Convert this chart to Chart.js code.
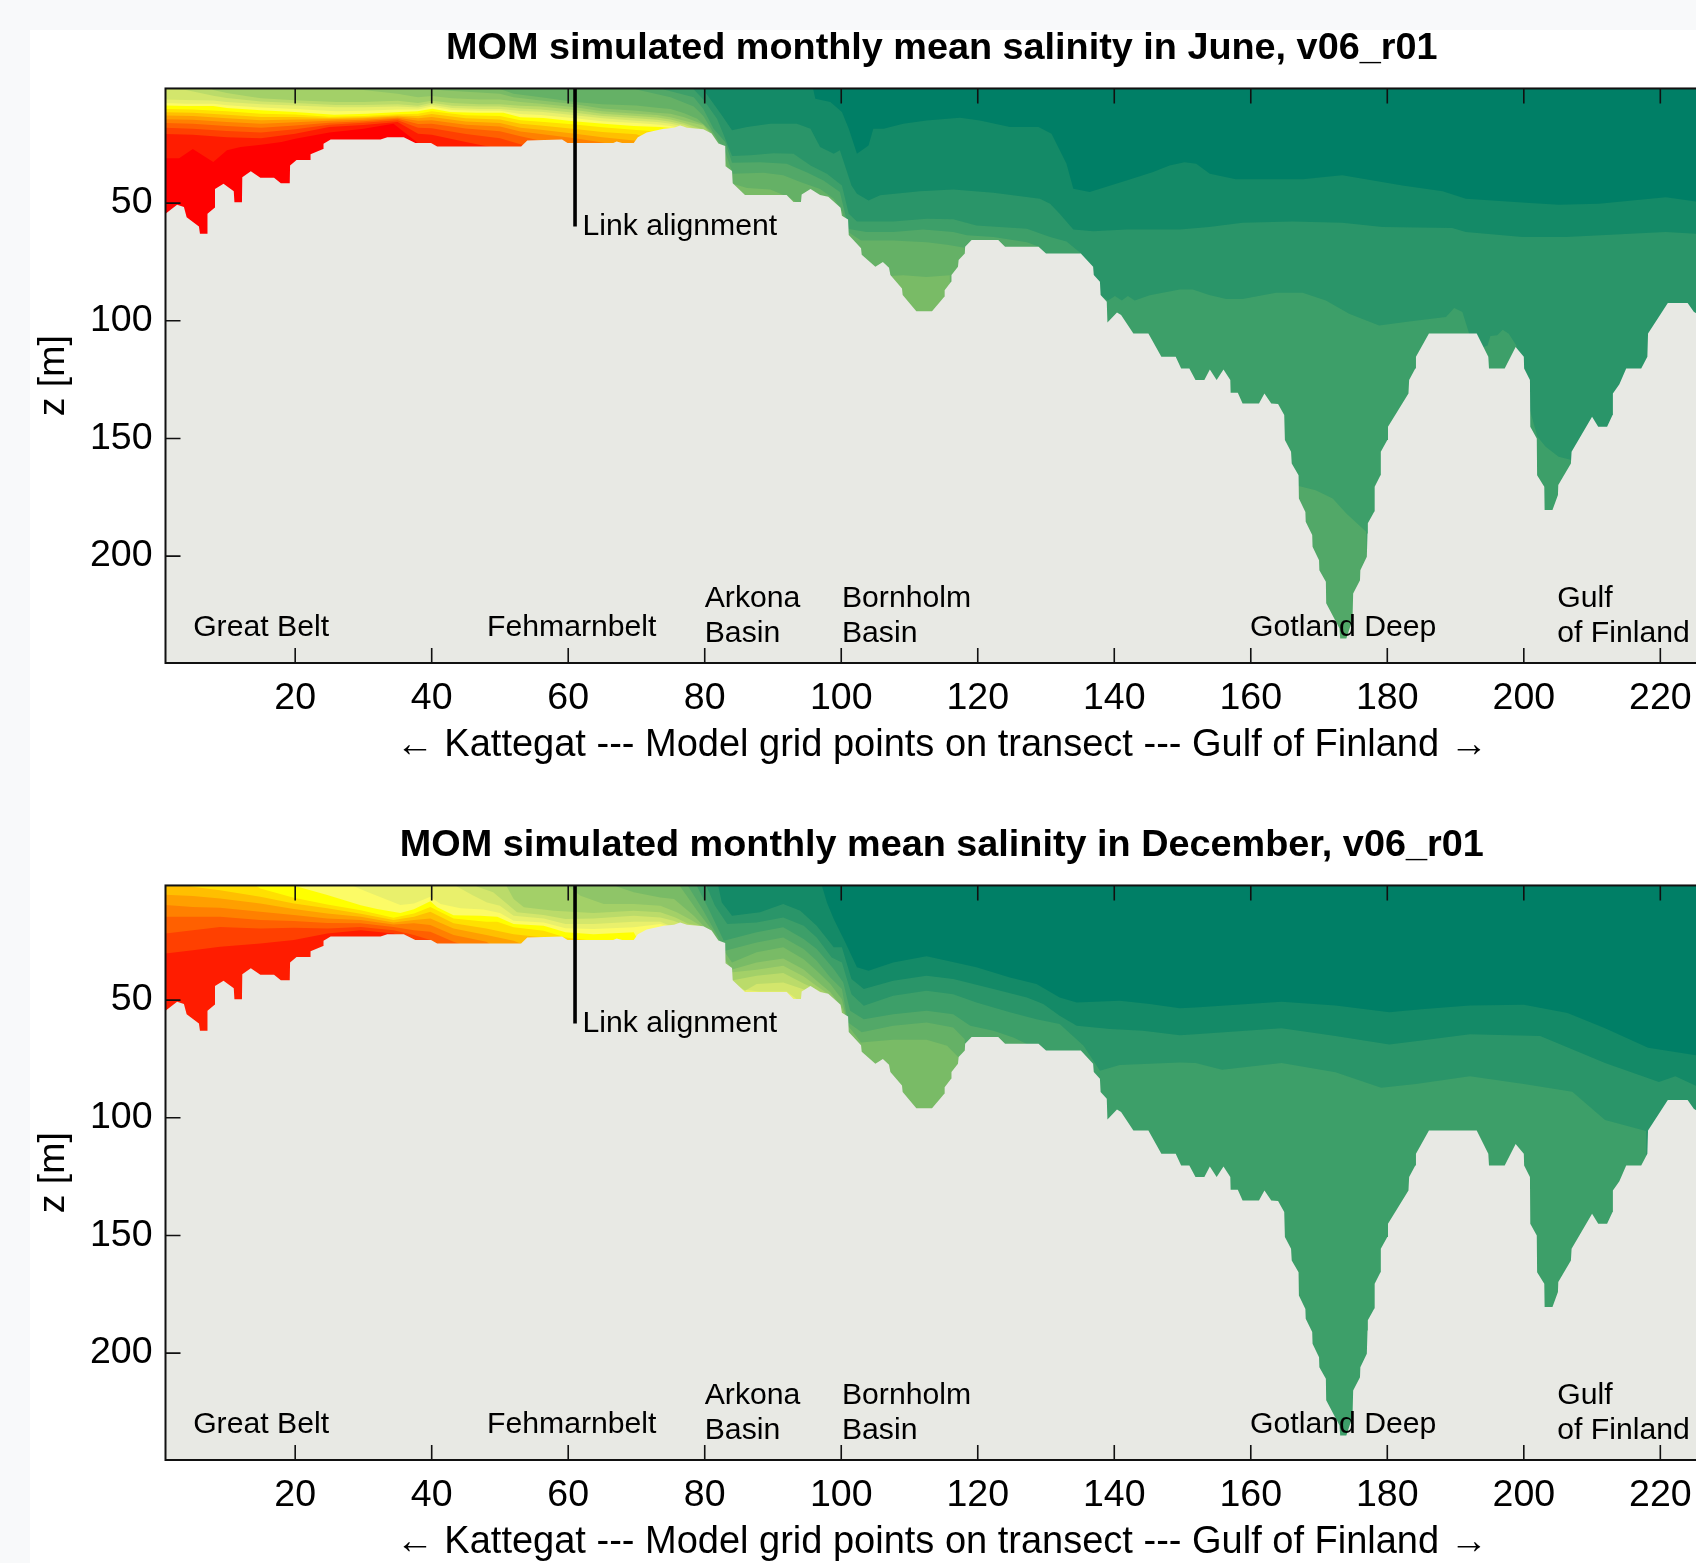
<!DOCTYPE html>
<html>
<head>
<meta charset="utf-8">
<title>MOM salinity transect</title>
<script src="https://cdn.jsdelivr.net/npm/chart.js@4/dist/chart.umd.js"></script>
<style>
  html, body { margin: 0; padding: 0; width: 1696px; height: 1563px; overflow: hidden; background: #f8f9fa; }
  #sheet { position: absolute; left: 30px; top: 30px; width: 1666px; height: 1533px; background: #fff; }
  canvas { position: absolute; left: 0; }
  #june { top: 0; }
  #december { top: 797px; }
</style>
</head>
<body>
<div id="sheet"></div>
<canvas id="june" width="1718" height="770"></canvas>
<canvas id="december" width="1718" height="770"></canvas>
<script>
"use strict";

const xTicks = [20, 40, 60, 80, 100, 120, 140, 160, 180, 200, 220];
const zTicks = [50, 100, 150, 200];
const titles = [
  "MOM simulated monthly mean salinity in June, v06_r01",
  "MOM simulated monthly mean salinity in December, v06_r01"
];
const xTitle = "\u2190 Kattegat --- Model grid points on transect --- Gulf of Finland \u2192";
const zTitle = "z [m]";

const linkX = 61;
const linkDepth = [0, 60];

// region names, one line each: grid point, depth
const regionNames = ["Great Belt", "Fehmarnbelt", "Arkona", "Basin", "Bornholm", "Basin", "Gotland Deep", "Gulf", "of Finland", "Link alignment"];
const regionX = [5.05, 48.1, 80, 80, 100.1, 100.1, 159.9, 204.9, 204.9, 62.1];
const regionZ = [230.2, 230.2, 217.9, 233.1, 217.9, 233.1, 230.2, 217.9, 233.1, 60];

// sea floor along the transect [grid point, depth]
const bathymetry = [[1,54.5],[2.7,50.7],[3.7,51.7],[4.1,56],[5.9,60],[6.05,63],[7.1,63],[7.15,54.5],[8.2,52],[8.25,44],[9.5,41.8],[11,45],[11.1,49.6],[12.2,49.6],[12.25,39],[13.5,36.5],[14.9,39.2],[16.9,39.2],[17.9,41.6],[19.2,41.6],[19.25,34],[20.2,31.7],[22.2,31.7],[22.25,29.3],[24.1,27],[24.15,24.8],[25.2,23],[32.5,23],[33.5,22],[35.9,22],[37.6,24.5],[39.9,24.5],[40.8,26],[53.1,26],[54,23.4],[59.1,23],[59.9,24.5],[66.6,24.5],[67.1,23.8],[67.9,24.5],[69.6,24.5],[70.2,22],[71.5,20],[74,18.4],[75.5,18],[76.4,17],[77.4,18],[79.8,18.6],[81,20.4],[82,24.7],[83,25.7],[83.05,34.3],[84,36.4],[84.1,41.6],[85.9,46.6],[92,46.6],[93,49.5],[94.1,49.5],[94.2,46.3],[95.5,44],[96.9,46.6],[98.1,47.3],[99.9,52],[100.1,55.4],[101,57],[101.1,63.6],[102.9,69.2],[103,72],[105,77],[106.1,75],[107,77.5],[107.2,80.6],[108.9,86.3],[109,89],[111,96],[113.3,96],[115.1,89.8],[115.15,87],[116.1,83.4],[116.15,80.6],[117.1,77],[117.2,74.2],[118.1,71.4],[118.15,68.6],[119.1,65.7],[123,65.7],[124,68.6],[128.9,68.6],[130,71.4],[135.1,71.4],[136.9,77],[137,80.6],[137.9,83.4],[138,89],[138.9,91.9],[139,100.7],[140.4,96.5],[141,97.6],[142.8,105.4],[145,105.4],[146.9,115.3],[149,115.3],[149.8,120.3],[151,120.3],[151.9,125.2],[153.2,125.2],[154,120.7],[155,125.2],[156,120.7],[157,125.2],[157.05,130.6],[158.1,130.6],[158.8,135.1],[161.2,135.1],[162,130.9],[163,135.1],[164,135.4],[164.9,140],[165,150.7],[165.9,155.7],[166,160.6],[167,165.6],[167.05,175.5],[168,181.2],[168.05,185.4],[169,191],[169.05,196],[170,201.7],[170.05,206],[171,210.9],[171.05,220],[173,230.7],[173.1,235],[174,235],[174.9,227],[175,215.9],[176,210.2],[176.05,206],[177,200.3],[177.1,190.4],[177.15,186],[178.1,181],[178.15,170.5],[179,165.6],[179.05,155.7],[180,150.7],[180.1,145],[183.1,130.9],[183.2,125.2],[184.1,120.3],[184.2,115.3],[186.1,105.4],[193.1,105.4],[194.8,115.3],[194.9,120.3],[197.2,120.3],[198.8,111.1],[200,115.3],[200.05,120.3],[200.9,125.2],[200.95,145],[201.9,150],[201.95,165.6],[203,170.5],[203.05,180.4],[204.2,180.4],[205,174],[205.05,169.8],[206.9,160.6],[207,155.7],[210,140.8],[210.9,145],[212.2,145],[213,140],[213.05,130.9],[214,127],[215,120.3],[217.2,120.3],[218.1,115.3],[218.2,105.4],[221.1,92.4],[224,92.4],[224.9,96.2],[227,100],[229,105]];

// June: depth of each salinity contour [grid point, depth], freshest first
const juneIso0 = [[1,0],[95.5,0],[95.9,1.7],[96.2,5.7],[98.4,7.1],[100.1,11.3],[101.1,18.4],[102.3,29],[104,25.5],[104.7,18.4],[106.2,18.4],[109.1,16.3],[112.5,14.9],[117.4,13.7],[120.3,14.9],[124.7,17.7],[128.9,17.7],[130.8,20.5],[133,33.3],[134,43.9],[136.4,45.3],[141.8,40.4],[145.7,36.8],[148.1,34],[150.3,32.6],[152,33.3],[154,37.5],[157.8,39.9],[167.6,39.9],[173.4,38.2],[182.2,42.5],[188.1,45],[191.5,48.2],[200.3,49.9],[205.1,50.7],[211,50.3],[220.8,47.5],[225.2,49.3],[229,50]];
const juneIso1 = [[1,0],[79.5,0],[79.8,1.7],[82.5,12.7],[84,19.1],[86.2,17.7],[89.6,16.3],[93.5,16.3],[95.5,18.4],[96.9,26.2],[98.9,29],[99.8,27.6],[101.5,42.5],[102.3,46],[104,48.9],[105.7,46.7],[111.5,45],[116.4,44.2],[122.3,45.6],[129.1,48.2],[130.6,50.3],[132,54.5],[134,61.2],[136.9,62],[141.8,61.2],[149.6,61.2],[153.9,60.2],[158.8,58.4],[166.1,57.8],[173.4,58.4],[179.3,60.2],[189.5,60.6],[191.5,62.3],[199.8,64.4],[206.1,64.4],[213.4,63.3],[220.8,62.3],[225.2,63],[229,63]];
const juneIso2 = [[1,0],[78,0],[78.4,1.7],[79.8,6],[81.8,14.2],[82.8,21.2],[84,30],[86.7,29.7],[90.1,28.8],[93,29],[95.5,34],[97.9,37.5],[100.1,42.5],[101.1,54.5],[102.3,57.8],[107.6,57.8],[112.5,56.7],[116.4,56.9],[119.8,59.5],[127.2,60.9],[130.6,64.4],[133,66.3],[135.2,71.5],[138,89.5],[139.1,91.4],[140.1,89.5],[141.1,91.4],[142,89.5],[143,91.4],[145.2,89.2],[149.6,86.7],[151.5,86.7],[153.9,89],[156.4,90.7],[158.8,90.7],[163.7,88.1],[167.6,88.1],[171,91.4],[174.4,97],[178.8,102],[183.2,100.3],[188.6,98.4],[189.8,94.6],[191,96.3],[192,105.5],[193.4,111.9],[194.7,110.5],[195.1,106.5],[196.1,106.2],[196.9,103.8],[197.8,105.5],[198.9,110.5],[199.8,121.8],[200.9,138],[202,149.3],[203.2,153.5],[205.1,157.8],[207,159.2],[208,260],[229,260]];
const juneIso3 = [[1,0],[73.5,0],[74,1.7],[78.4,5],[79.8,10],[81.3,18.4],[83,24],[84,32.9],[88.1,32.6],[92,33.3],[95,37],[97.4,40.4],[99.8,45.3],[101.1,61],[103.7,62.3],[107.6,62.3],[112,61.2],[116.4,62.3],[118.4,63.7],[122.3,64.4],[127.2,66.6],[129.1,68.7],[130,80],[136,95],[140,110],[146,125],[150,130],[157,135],[164,145],[166,165],[167,170.2],[169.5,172],[172,175.5],[174,181.9],[176.9,189.6],[178,260],[229,260]];
const juneIso4 = [[1,0],[69.5,0],[70,1.7],[75,5],[78.4,9],[79.8,13],[81.5,21.2],[83,28.3],[84.1,37.5],[88.6,37.1],[91.5,38.2],[94,41],[96.9,44],[98.9,48.2],[100.1,53],[101,62.3],[102.9,65.9],[107.6,65.9],[112.5,66.6],[115.5,67.7],[118.1,69],[120,260],[229,260]];
const juneIso5 = [[1,0],[49.5,0],[50,1.5],[52,3.5],[56,5],[61,7],[65,8],[70,8.5],[73,9.5],[75,10],[77,11.8],[78.9,14.2],[80.8,19.1],[82.5,26.9],[83.3,34.7],[84.1,41.8],[86.2,43.6],[89.6,44.2],[92.3,47.5],[93.5,49.9],[94.2,60],[100,70],[102,75],[105,78],[107,81],[109.1,80.7],[112.5,81.4],[115.9,80.7],[116.5,260],[229,260]];
const juneIso6 = [[1,0],[37.5,0],[38,1],[42,2.2],[47,3],[50,3.5],[52,5],[56,6.4],[61,8],[65,9.8],[70,10.8],[73,11.6],[75,12],[77,13.5],[79.8,16.5],[81,20.5],[82,26],[83,36],[84,44],[85,260],[229,260]];
const juneIso7 = [[1,0],[25.5,0],[26,1],[30,2],[35,3.5],[38,5],[40,4.5],[43,5.5],[47,6],[50,6],[53,7],[56,7.8],[61,9.3],[65,11],[70,12],[73,12.6],[75,13.5],[77,15],[79.8,17],[81,21],[82,260],[229,260]];
const juneIso8 = [[1,0],[7,0],[8,2],[10,3.2],[13,4.6],[15,5.5],[20,6.3],[26,7],[30,7],[35,6.5],[38,7.5],[40,6.5],[43,7.5],[47,8],[50,8],[53,8.6],[56,9],[61,10.5],[65,12],[70,13],[73,13.6],[75,14.5],[77,16],[80,19],[81,260],[229,260]];
const juneIso9 = [[1,1.5],[4,2],[8,4.4],[10,5.4],[15,6.8],[20,7.5],[26,8.3],[30,8.3],[35,8],[38,8.6],[40,7.4],[43,8.6],[47,9],[50,9],[53,9.8],[56,10.2],[61,11.6],[65,13],[70,14],[73,14.6],[75,15.4],[77,16.7],[79,19],[80,260],[229,260]];
const juneIso10 = [[1,6],[4,6.2],[8,6.4],[10,7],[15,8],[20,8.5],[26,9.3],[30,9.3],[35,9],[38,9.4],[40,8.2],[43,9.6],[47,10],[50,10],[53,10.9],[56,11.2],[61,12.7],[65,14],[70,15],[73,15.6],[75,16.3],[77,17.5],[79,260],[229,260]];
const juneIso11 = [[1,7.5],[4,7.8],[8,7.8],[10,8.4],[15,9.4],[20,10],[26,11],[30,10.8],[35,10.2],[38,10.2],[40,9],[43,10.5],[47,10.8],[50,10.8],[53,12.2],[56,12.6],[61,14],[65,15.2],[70,16],[73,16.6],[75,17.2],[77,18.5],[78,260],[229,260]];
const juneIso12 = [[1,8.5],[4,8.8],[8,8.8],[10,9.6],[15,10.6],[20,11.3],[25.7,12.5],[30.5,12],[35.4,11.3],[37.9,11],[40.1,9.9],[42.7,11.3],[46.6,11.6],[50.5,11.6],[53,13.5],[56.4,13.9],[60.8,15.2],[65.2,16.3],[69.6,17.3],[73.5,17.7],[75,18.1],[77,260],[229,260]];
const juneIso13 = [[1,10],[5,10.2],[10,11],[15,12],[20,12.4],[25,13.3],[30,13],[35,12.3],[38,12],[40,11],[45,12.7],[50,13],[53,14.8],[56,15.4],[61,16.6],[65,17.8],[70,18.9],[73,19.6],[74,30],[77,260],[229,260]];
const juneIso14 = [[1,11.4],[5,11.6],[10,12.5],[15,13.4],[20,13.4],[25,13.9],[30,13.5],[35,12.8],[38,13],[40,12.2],[45,14],[50,14.5],[53,16.3],[56,17],[61,18.5],[65,19.8],[70,20.8],[72,23],[74,40],[77,260],[229,260]];
const juneIso15 = [[1,12.8],[5,13],[10,14],[15,14.8],[20,14.5],[25,14.4],[30,14],[35,13.2],[38,14],[40,13.4],[45,15.3],[50,16],[53,18],[56,18.8],[61,20.5],[65,22],[70,23.5],[72,40],[77,260],[229,260]];
const juneIso16 = [[1,14.4],[5,14.6],[10,15.5],[15,16.3],[20,15.7],[25,15],[30,14.6],[35,13.7],[38,15],[40,14.8],[45,16.7],[50,17.5],[53,19.6],[56,20.6],[61,22.5],[65,24.3],[70,27],[72,40],[77,260],[229,260]];
const juneIso17 = [[1,16],[5,16.3],[10,17.3],[15,18],[20,17],[25,15.9],[30,15.2],[35,14.2],[38,16.4],[40,16.3],[45,18.3],[50,19.5],[53,21.6],[56,23.5],[61,26],[65,27],[70,40],[77,260],[229,260]];
const juneIso18 = [[1,18],[5,18.4],[10,19.4],[15,20],[20,18.6],[25,16.7],[30,15.9],[35,14.8],[38,18],[40,18.2],[45,20.6],[50,22.5],[53,25],[56,27],[60,40],[77,260],[229,260]];
const juneIso19 = [[1,20.6],[5,21],[10,22],[15,22.5],[20,20.5],[25,17.7],[30,16.8],[35,15.5],[38,20.5],[40,21],[45,24],[50,27],[55,40],[77,260],[229,260]];
const juneIso20 = [[1,31],[3,31],[5,27],[8,32.5],[10,27.6],[12,26.2],[15,25.2],[18,24],[20,22.7],[25,20],[30,18.4],[34.4,16.3],[37.8,24],[39,27],[40,40],[77,260],[229,260]];

// December
const decIso0 = [[1,0],[97,0],[97.2,1.7],[97.9,8.5],[98.9,15.6],[100.6,25.5],[102.3,36.1],[104,37.5],[107.6,34],[112.5,31.4],[115.5,33.3],[119.8,36.1],[124.7,40.4],[128.6,43.2],[132,48.9],[134.5,51],[140.8,50.3],[145.2,51.7],[149.6,53.5],[151.9,53.1],[164.5,50.7],[172.4,52.3],[180.3,55.2],[185,53.9],[192.1,52.3],[200,52],[206.4,55.5],[211.9,62],[218.2,70.2],[225.2,73.4],[229,75]];
const decIso1 = [[1,0],[81.8,0],[82,1.7],[82.5,8.5],[84,14.2],[88.1,12.7],[91.5,9.2],[94,12],[96.4,18.4],[98.9,27.6],[100.1,27.6],[101.5,41],[103.3,45.3],[107.6,41.8],[112.5,39.7],[116.4,41],[122.3,45.3],[127.2,48.9],[129.6,51.7],[132,56.7],[134.5,60.9],[139.4,62.3],[144.2,63],[149.6,64.9],[151.9,64.5],[164.5,62],[172.4,65.3],[180.3,68.9],[185,67.2],[192.1,64.5],[202.4,65.3],[211.9,76.7],[219.8,84.8],[222.2,82.4],[225.2,86.4],[229,88]];
const decIso2 = [[1,0],[80,0],[80.3,1.7],[81.5,9.9],[83.3,17.7],[87.6,17],[91.5,14.9],[94.5,18.4],[96.4,23.4],[98.6,31.9],[100.1,34],[101.5,47.5],[103.3,52.4],[107.6,48.2],[112.5,46],[116.4,47.5],[119.8,51],[124.7,55.2],[128.6,58.1],[132,60.2],[135.5,69.4],[137.9,80],[140.8,77.6],[149.6,76.5],[151.9,76.7],[155.8,79.6],[164.5,76.7],[172.4,80.7],[179.1,87.2],[184.2,85.6],[192.1,82.4],[200,85.6],[207.1,88.9],[211.9,101],[217.9,105.6],[218.5,260],[229,260]];
const decIso3 = [[1,0],[78.6,0],[78.9,1.7],[80.8,12.7],[82.8,24.8],[87.6,21.2],[91.5,19.1],[94.5,24],[96.4,28.3],[98.9,36.8],[100.3,42.5],[101.3,54.5],[103.3,58.1],[107.6,56],[112.5,54.5],[116.4,56],[118.9,60.9],[122.3,63],[125.2,65.9],[127.2,68.7],[129,260],[229,260]];
const decIso4 = [[1,0],[77.3,0],[77.6,1.7],[79.8,12],[82,23.4],[83,29],[87.6,25.5],[91.5,23.4],[94.5,28.3],[96.4,33.3],[98.4,40.4],[100.1,45.3],[101,59.5],[103,63.7],[107.6,60.9],[112.5,59.5],[116.4,61.6],[118.1,66.6],[119.5,260],[229,260]];
const decIso5 = [[1,0],[76.1,0],[76.4,1.7],[78.9,12],[81.3,21.2],[82.8,29],[84,34],[87.6,29.7],[91.5,27.6],[94.5,32.6],[96.4,37.5],[98.4,43.2],[100.1,49.6],[101,60.9],[102.9,68],[107.6,66.9],[112.5,66.9],[115.5,69.4],[117.2,74.4],[118,260],[229,260]];
const decIso6 = [[1,0],[66.8,0],[67.1,1.7],[69.6,4.2],[73.5,6.4],[75.5,7],[78.4,14.2],[79.8,18.4],[81,22],[83,33],[84,37],[87.6,34],[91.5,32.3],[94.5,37],[96.4,41.8],[98.4,46.7],[100.1,53],[101,60],[101.5,260],[229,260]];
const decIso7 = [[1,0],[59.7,0],[60,1.7],[61.8,5.7],[65.2,9.2],[69.6,9.2],[73.5,9.9],[75.9,12.7],[78,16],[79.5,18.5],[81,22],[83,35],[84.1,38.2],[87.6,37.1],[91.5,35.4],[94.5,40],[96.4,44],[98.4,48],[100,53.5],[101,260],[229,260]];
const decIso8 = [[1,0],[50.7,0],[51,1.7],[52,7.1],[53.5,10.6],[57.9,12],[63.7,13],[69.6,12],[73.5,12.7],[75.7,14.9],[77.5,17.5],[80,19],[83,36],[84.1,41.6],[87.6,39.7],[91.5,38.5],[94.5,43],[96.4,45.5],[98,48],[100,54],[101,260],[229,260]];
const decIso9 = [[1,0],[46.3,0],[46.6,1.7],[49,4.2],[50.5,7.8],[52.5,12.7],[56.4,13.9],[59.6,15.6],[63.7,15.3],[69.6,14.2],[73.5,14.9],[75.4,16.3],[77,18],[80,20],[84,42],[85.9,46],[87.6,43.2],[91.5,42.5],[94,45],[96,47],[98,49],[100,260],[229,260]];
const decIso10 = [[1,0],[43,0],[43.7,1.7],[46,5.5],[48.1,8.5],[50,9.9],[52,14.2],[56.4,15.3],[59.6,17.7],[63.7,17.7],[69.6,16.7],[73.5,16.7],[75,18.5],[77,19],[80,21],[84,45],[88,46.3],[92,46.3],[93.5,49.6],[94.1,60],[95,260],[229,260]];
const decIso11 = [[1,0],[28,0],[28.5,1.5],[30.5,4],[35.4,9.6],[37.4,9],[39.8,6.1],[41.3,9.2],[44.2,11],[47.6,11.5],[50,13],[52,16.3],[56.4,17],[59.6,19.5],[63.7,19.8],[69.6,19.1],[73.5,17.7],[75,19],[76,260],[229,260]];
const decIso12 = [[1,0],[19.5,0],[20,1.5],[24.7,5.4],[29.6,9.7],[32,11.3],[35.4,13],[37.4,11.4],[39.8,8],[40.8,10.6],[43.2,14],[47.1,14.2],[49.6,14.6],[52,17.7],[56.4,18.4],[59.6,21.2],[63.7,22],[69.6,21.2],[70.5,26],[71,260],[229,260]];
const decIso13 = [[1,0],[13.5,0],[14.9,2.6],[19.8,6.5],[24.7,9.4],[29.6,11.8],[34.4,15],[37.4,13.2],[39.8,10.4],[43.2,15.3],[48,16.7],[49.6,16.7],[52,19.1],[56.4,20.5],[59.6,23.4],[63.7,24.8],[69.6,24.8],[71,30],[73,260],[229,260]];
const decIso14 = [[1,0],[2.5,0],[5,1.9],[9,3.3],[14.9,6.1],[19.8,9],[24.7,11],[29.6,13.3],[34.4,16],[37.4,14.6],[39.8,12.5],[43.2,17.4],[48,19.6],[52,22],[56.4,23.4],[60,27],[63,260],[229,260]];
const decIso15 = [[1,5.2],[5,5.8],[9,6.8],[14.9,9],[19.8,11.3],[24.7,13.2],[29.6,14.6],[34.4,17],[37.4,16],[39.8,15.3],[43.2,19.6],[48,22.4],[52,24.8],[53.2,26.2],[56,260],[229,260]];
const decIso16 = [[1,9.6],[5,10.4],[9,10.8],[14.9,12.5],[19.8,13.9],[24.7,15.3],[29.6,16],[34.4,17.9],[37.4,17.4],[39.8,18.1],[43.2,22.4],[48,25.2],[49,27],[52,260],[229,260]];
const decIso17 = [[1,14.6],[5,14.6],[9,14.6],[14.9,16],[19.8,16.4],[24.7,17.2],[29.6,17.4],[34.4,18.9],[37.4,20.3],[39.8,21],[43.2,25.2],[45,27],[47,260],[229,260]];
const decIso18 = [[1,21.7],[5,20.3],[9,18.9],[14.9,19.6],[19.8,19.3],[24.7,19.6],[29.6,18.9],[34.4,20.3],[37.4,22.4],[39.8,24.5],[41,27],[43,260],[229,260]];
const decIso19 = [[1,30.2],[5,28.8],[9,27.3],[14.9,26],[19.8,24.5],[24.7,21.7],[29.6,20.3],[34.4,21.7],[36,24],[38,260],[229,260]];

const seaBed = [[1,260],[229,260]];

const juneLines = [juneIso0, juneIso1, juneIso2, juneIso3, juneIso4, juneIso5, juneIso6, juneIso7, juneIso8, juneIso9, juneIso10,
  juneIso11, juneIso12, juneIso13, juneIso14, juneIso15, juneIso16, juneIso17, juneIso18, juneIso19, juneIso20];
const decLines = [decIso0, decIso1, decIso2, decIso3, decIso4, decIso5, decIso6, decIso7, decIso8, decIso9,
  decIso10, decIso11, decIso12, decIso13, decIso14, decIso15, decIso16, decIso17, decIso18, decIso19];

// colour of the water above each contour
const bandColors = ["#007f66", "#148a67", "#2a9569", "#3d9f69", "#52a868", "#65b166", "#79bb66", "#8fc568", "#a3d068", "#bbdb6a", "#d3e66c",
  "#e9f06c", "#fcfb66", "#ffff00", "#ffe000", "#ffbf00", "#ff9f00", "#ff8000", "#ff6000", "#ff4000", "#ff1c00", "#ff0000"];
const landColor = "#e8e9e4";
const fontName = "'Liberation Sans', Arial, sans-serif";

function toPoints(pairs) {
  return pairs.map((p) => ({ x: p[0], y: p[1] }));
}

// ticks point inwards and the frame goes over the land
const framePlugin = {
  id: "frame",
  afterDatasetsDraw(chart) {
    const ctx = chart.ctx;
    const area = chart.chartArea;
    const sx = chart.scales.x;
    const sz = chart.scales.y;
    ctx.save();
    ctx.strokeStyle = "#111";
    ctx.lineWidth = 1.6;
    ctx.beginPath();
    xTicks.forEach((v) => {
      const px = sx.getPixelForValue(v);
      ctx.moveTo(px, area.top);
      ctx.lineTo(px, area.top + 15);
      ctx.moveTo(px, area.bottom);
      ctx.lineTo(px, area.bottom - 15);
    });
    zTicks.forEach((v) => {
      const py = sz.getPixelForValue(v);
      ctx.moveTo(area.left, py);
      ctx.lineTo(area.left + 15, py);
    });
    ctx.stroke();
    ctx.lineWidth = 2;
    ctx.strokeRect(area.left, area.top, area.right - area.left + 4, area.bottom - area.top);

    ctx.fillStyle = "#000";
    ctx.font = "30.2px " + fontName;
    ctx.textBaseline = "middle";
    regionNames.forEach((name, i) => {
      ctx.fillText(name, sx.getPixelForValue(regionX[i]), sz.getPixelForValue(regionZ[i]));
    });
    ctx.restore();
  }
};

function drawPanel(id, title, lines) {
  const datasets = [];
  datasets.push({
    data: [{ x: linkX, y: linkDepth[0] }, { x: linkX, y: linkDepth[1] }],
    borderColor: "#000", borderWidth: 3.6, pointRadius: 0, fill: false
  });
  datasets.push({
    data: toPoints(bathymetry),
    backgroundColor: landColor, borderWidth: 0, pointRadius: 0, fill: "start"
  });
  lines.forEach((line, i) => {
    datasets.push({
      data: toPoints(line),
      backgroundColor: bandColors[i], borderWidth: 0, pointRadius: 0, fill: "end"
    });
  });
  datasets.push({
    data: toPoints(seaBed),
    backgroundColor: bandColors[lines.length], borderWidth: 0, pointRadius: 0, fill: "end"
  });

  return new Chart(document.getElementById(id), {
    type: "line",
    data: { datasets: datasets },
    options: {
      responsive: false,
      animation: false,
      layout: { padding: 0 },
      elements: { line: { tension: 0 } },
      scales: {
        x: {
          type: "linear",
          min: 1,
          max: 228.45,
          grid: { display: false },
          border: { display: false },
          afterBuildTicks(s) { s.ticks = xTicks.map((v) => ({ value: v })); },
          afterFit(s) { s.height = 107; },
          ticks: { color: "#000", padding: 5, maxRotation: 0, autoSkip: false, font: { family: fontName, size: 37.5 } },
          title: { display: true, text: xTitle, color: "#000", padding: { top: 0, bottom: 2 }, font: { family: fontName, size: 38 } }
        },
        y: {
          type: "linear",
          reverse: true,
          min: 1.3,
          max: 245.4,
          grid: { display: false },
          border: { display: false },
          afterBuildTicks(s) { s.ticks = zTicks.map((v) => ({ value: v })); },
          afterFit(s) { s.width = 165.5; },
          ticks: { color: "#000", padding: 5, font: { family: fontName, size: 37.5 } },
          title: { display: true, text: zTitle, color: "#000", padding: { top: 31, bottom: 0 }, font: { family: fontName, size: 37.5 } }
        }
      },
      plugins: {
        legend: { display: false },
        tooltip: { enabled: false },
        title: {
          display: true,
          text: title,
          fullSize: false,
          color: "#000",
          padding: { top: 26, bottom: 17.1 },
          font: { family: fontName, size: 37.8, weight: "bold" }
        }
      }
    },
    plugins: [framePlugin]
  });
}

drawPanel("june", titles[0], juneLines);
drawPanel("december", titles[1], decLines);
</script>
</body>
</html>
